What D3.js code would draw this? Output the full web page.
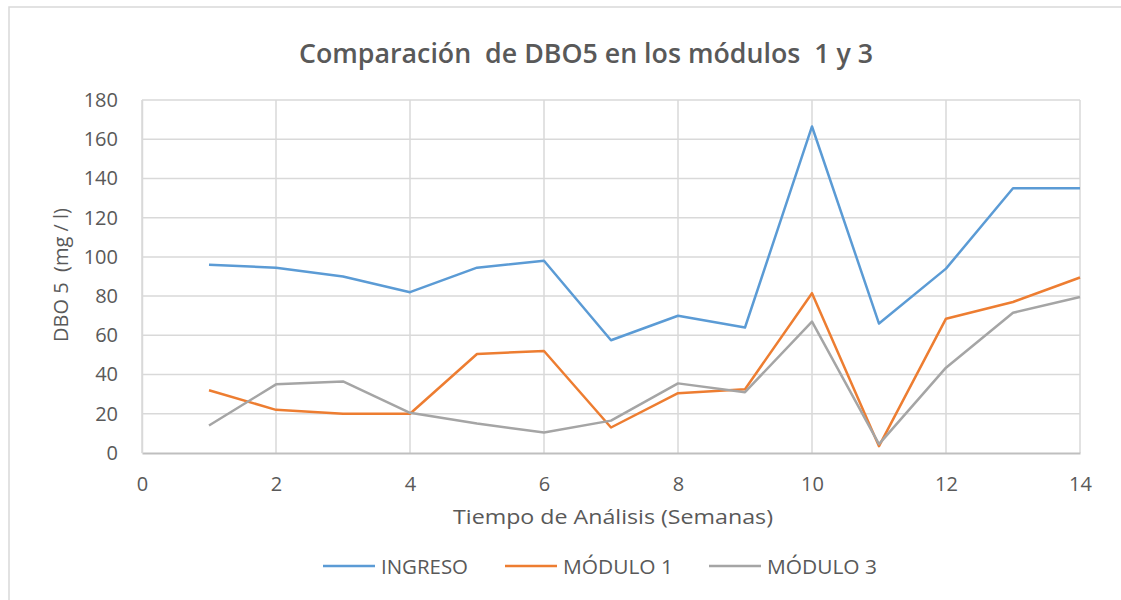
<!DOCTYPE html>
<html>
<head>
<meta charset="utf-8">
<script src="https://cdn.jsdelivr.net/npm/d3@7"></script>
<style>
  html, body { margin: 0; padding: 0; background: #fff; }
  svg { display: block; font-family: "Open Sans", "Noto Sans", sans-serif; }
</style>
</head>
<body>
<svg id="chart" width="1121" height="600"></svg>
<script>
// Semana de análisis (eje X)
const semanas = [1, 2, 3, 4, 5, 6, 7, 8, 9, 10, 11, 12, 13, 14];
// DBO5 (mg/l) por serie
const ingreso = [96, 94.5, 90, 82, 94.5, 98, 57.5, 70, 64, 166.5, 66, 94, 135, 135];
const modulo1 = [32, 22, 20, 20, 50.5, 52, 13, 30.5, 32.5, 81.5, 3.5, 68.5, 77, 89.5];
const modulo3 = [14, 35, 36.5, 20.5, 15, 10.5, 16.5, 35.5, 31, 67, 4.5, 43.5, 71.5, 79.5];
const seriesNames = ["INGRESO", "MÓDULO 1", "MÓDULO 3"];
const xTicks = [0, 2, 4, 6, 8, 10, 12, 14];
const yTicks = [0, 20, 40, 60, 80, 100, 120, 140, 160, 180];

const colors = ["#5b9bd5", "#ed7d31", "#a5a5a5"];
const textColor = "#595959";

const svg = d3.select("#chart");

// chart frame
svg.append("rect")
  .attr("x", 9).attr("y", 7)
  .attr("width", 1130).attr("height", 610)
  .attr("fill", "none").attr("stroke", "#d9d9d9").attr("stroke-width", 1.5);

const plot = { left: 142, right: 1080, top: 100, bottom: 453 };

const x = d3.scaleLinear().domain([0, 14]).range([plot.left, plot.right]);
const y = d3.scaleLinear().domain([0, 180]).range([plot.bottom, plot.top]);

// gridlines
const grid = svg.append("g");
grid.selectAll("line.h").data(yTicks.filter(d => d > 0)).join("line")
  .attr("x1", plot.left).attr("x2", plot.right)
  .attr("y1", d => y(d)).attr("y2", d => y(d))
  .attr("stroke", "#d9d9d9").attr("stroke-width", 1.5);
grid.selectAll("line.v").data(xTicks).join("line")
  .attr("y1", plot.top).attr("y2", plot.bottom)
  .attr("x1", d => x(d)).attr("x2", d => x(d))
  .attr("stroke", "#d9d9d9").attr("stroke-width", 1.5);

// X axis
const xAxis = svg.append("g")
  .attr("transform", `translate(0,${plot.bottom})`)
  .call(d3.axisBottom(x).tickValues(xTicks).tickSize(0).tickPadding(24));
xAxis.select(".domain").attr("stroke", "#bfbfbf").attr("stroke-width", 2);
xAxis.selectAll("text").attr("fill", textColor).attr("font-size", 20)
  .attr("font-family", "'Open Sans', sans-serif");

// Y axis
const yAxis = svg.append("g")
  .attr("transform", `translate(${plot.left},0)`)
  .call(d3.axisLeft(y).tickValues(yTicks).tickSize(0).tickPadding(24));
yAxis.select(".domain").attr("stroke", "#d9d9d9").attr("stroke-width", 1.5);
yAxis.selectAll("text").attr("fill", textColor).attr("font-size", 20)
  .attr("font-family", "'Open Sans', sans-serif");

// series lines
const series = [ingreso, modulo1, modulo3];
const line = d3.line().x((d, i) => x(semanas[i])).y(d => y(d));
svg.append("g").selectAll("path").data(series).join("path")
  .attr("d", d => line(d))
  .attr("fill", "none")
  .attr("stroke", (d, i) => colors[i])
  .attr("stroke-width", 2.5)
  .attr("stroke-linejoin", "round");

// title
svg.append("text")
  .attr("x", 586).attr("y", 63)
  .attr("text-anchor", "middle")
  .attr("fill", textColor)
  .attr("font-size", 27).attr("font-weight", 600)
  .attr("xml:space", "preserve")
  .attr("textLength", 574).attr("lengthAdjust", "spacingAndGlyphs")
  .text("Comparación  de DBO5 en los módulos  1 y 3");

// axis titles
svg.append("text")
  .attr("x", 613).attr("y", 524)
  .attr("text-anchor", "middle")
  .attr("fill", textColor).attr("font-size", 19.5)
  .attr("textLength", 320).attr("lengthAdjust", "spacingAndGlyphs")
  .text("Tiempo de Análisis (Semanas)");

svg.append("text")
  .attr("transform", "translate(68,275) rotate(-90)")
  .attr("text-anchor", "middle")
  .attr("fill", textColor).attr("font-size", 19.5)
  .attr("xml:space", "preserve")
  .attr("textLength", 134).attr("lengthAdjust", "spacingAndGlyphs")
  .text("DBO 5  (mg / l)");

// legend
const legendX = [323, 505, 709];
const legendW = [87, 110, 110];
const legend = svg.append("g");
seriesNames.forEach((name, i) => {
  const g = legend.append("g").attr("transform", `translate(${legendX[i]},566)`);
  g.append("line").attr("x1", 0).attr("x2", 52).attr("y1", 0).attr("y2", 0)
    .attr("stroke", colors[i]).attr("stroke-width", 2.5);
  g.append("text").attr("x", 58).attr("y", 7.5)
    .attr("fill", textColor).attr("font-size", 20)
    .attr("textLength", legendW[i]).attr("lengthAdjust", "spacingAndGlyphs")
    .text(name);
});
</script>
</body>
</html>
